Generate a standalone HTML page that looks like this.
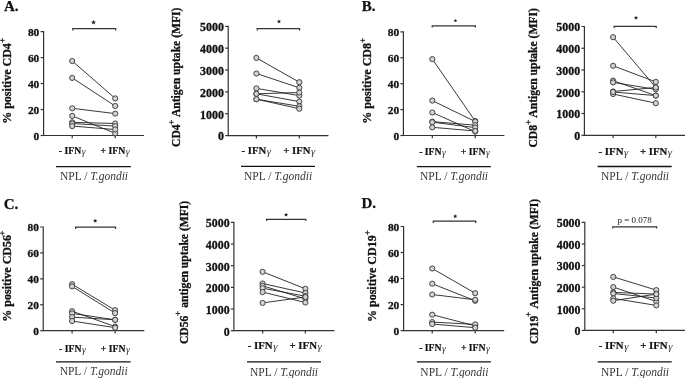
<!DOCTYPE html>
<html><head><meta charset="utf-8"><style>
html,body{margin:0;padding:0;background:#fff;}
svg{display:block;will-change:transform;}
text{font-family:"Liberation Serif",serif;fill:#111;}
.tk{font-size:11.2px;font-weight:bold;text-anchor:end;stroke:#111;stroke-width:0.3px;}
.yl{font-size:11.8px;font-weight:bold;stroke:#111;stroke-width:0.3px;}
.sup{font-size:8.8px;font-weight:bold;fill-opacity:0;stroke-opacity:0;}
.lt{font-size:15px;font-weight:bold;stroke:#111;stroke-width:0.25px;}
.xl{font-size:9.7px;font-weight:bold;text-anchor:middle;stroke:#111;stroke-width:0.2px;}
.g{font-weight:normal;font-style:italic;fill:#333;stroke:none;}
.np{font-size:11.5px;text-anchor:middle;fill:#383838;}
.pt{font-size:9px;text-anchor:middle;fill:#222;}
.dt{fill:#d2d2d2;stroke:#333;stroke-width:0.9;}
</style></head>
<body><svg width="685" height="378" viewBox="0 0 685 378">
<rect width="685" height="378" fill="#fff"/>
<path d="M40.60 31.60H43.60V135.50H144.00" fill="none" stroke="#333" stroke-width="1.2"/>
<path d="M40.60 135.50H43.60" stroke="#333" stroke-width="1.2"/>
<text x="39.30" y="139.80" class="tk" style="font-size:11.4px">0</text>
<path d="M40.60 109.53H43.60" stroke="#333" stroke-width="1.2"/>
<text x="39.30" y="113.83" class="tk" style="font-size:11.4px">20</text>
<path d="M40.60 83.55H43.60" stroke="#333" stroke-width="1.2"/>
<text x="39.30" y="87.85" class="tk" style="font-size:11.4px">40</text>
<path d="M40.60 57.57H43.60" stroke="#333" stroke-width="1.2"/>
<text x="39.30" y="61.87" class="tk" style="font-size:11.4px">60</text>
<text x="39.30" y="35.90" class="tk" style="font-size:11.4px">80</text>
<path d="M72.20 135.50V138.30" stroke="#333" stroke-width="1.2"/>
<path d="M115.20 135.50V138.30" stroke="#333" stroke-width="1.2"/>
<path d="M72.80 30.40V28.70H115.70V30.40" fill="none" stroke="#333" stroke-width="1.2"/>
<polygon points="93.50,19.80 94.14,21.52 95.97,21.60 94.54,22.74 95.03,24.50 93.50,23.49 91.97,24.50 92.46,22.74 91.03,21.60 92.86,21.52" fill="#222"/>
<line x1="72.20" y1="61.00" x2="115.20" y2="98.40" stroke="#222" stroke-width="0.9"/>
<line x1="72.20" y1="77.90" x2="115.20" y2="106.00" stroke="#222" stroke-width="0.9"/>
<line x1="72.20" y1="108.30" x2="115.20" y2="113.60" stroke="#222" stroke-width="0.9"/>
<line x1="72.20" y1="115.90" x2="115.20" y2="133.30" stroke="#222" stroke-width="0.9"/>
<line x1="72.20" y1="122.30" x2="115.20" y2="123.50" stroke="#222" stroke-width="0.9"/>
<line x1="72.20" y1="123.50" x2="115.20" y2="126.10" stroke="#222" stroke-width="0.9"/>
<line x1="72.20" y1="126.10" x2="115.20" y2="129.50" stroke="#222" stroke-width="0.9"/>
<circle cx="72.20" cy="61.00" r="2.6" class="dt"/>
<circle cx="115.20" cy="98.40" r="2.6" class="dt"/>
<circle cx="72.20" cy="77.90" r="2.6" class="dt"/>
<circle cx="115.20" cy="106.00" r="2.6" class="dt"/>
<circle cx="72.20" cy="108.30" r="2.6" class="dt"/>
<circle cx="115.20" cy="113.60" r="2.6" class="dt"/>
<circle cx="72.20" cy="115.90" r="2.6" class="dt"/>
<circle cx="115.20" cy="133.30" r="2.6" class="dt"/>
<circle cx="72.20" cy="122.30" r="2.6" class="dt"/>
<circle cx="115.20" cy="123.50" r="2.6" class="dt"/>
<circle cx="72.20" cy="123.50" r="2.6" class="dt"/>
<circle cx="115.20" cy="126.10" r="2.6" class="dt"/>
<circle cx="72.20" cy="126.10" r="2.6" class="dt"/>
<circle cx="115.20" cy="129.50" r="2.6" class="dt"/>
<text transform="translate(10.70,123.80) rotate(-90)" class="yl" style="font-size:12px">% positive CD4<tspan class="sup" dy="-5.1">+</tspan><tspan dy="5.1"></tspan></text>
<path d="M0.10 40.40H4.70M2.40 38.10V42.70" stroke="#2a2a2a" stroke-width="0.95"/>
<text x="4.00" y="10.60" class="lt">A.</text>
<text x="72.20" y="153.70" class="xl" style="font-size:9.7px">- IFN<tspan class="g" dx="0.5" dy="0.8">γ</tspan></text>
<text x="115.10" y="153.70" class="xl" style="font-size:9.7px">+ IFN<tspan class="g" dx="0.5" dy="0.8">γ</tspan></text>
<path d="M56.00 166.60H130.90" stroke="#111" stroke-width="1.35"/>
<text x="94.00" y="179.80" class="np">NPL / <tspan font-style="italic">T.gondii</tspan></text>
<path d="M225.20 26.30H228.20V135.60H328.50" fill="none" stroke="#333" stroke-width="1.2"/>
<path d="M225.20 135.60H228.20" stroke="#333" stroke-width="1.2"/>
<text x="223.90" y="140.40" class="tk" style="font-size:11.9px">0</text>
<path d="M225.20 113.74H228.20" stroke="#333" stroke-width="1.2"/>
<text x="223.90" y="118.54" class="tk" style="font-size:11.9px">1000</text>
<path d="M225.20 91.88H228.20" stroke="#333" stroke-width="1.2"/>
<text x="223.90" y="96.68" class="tk" style="font-size:11.9px">2000</text>
<path d="M225.20 70.02H228.20" stroke="#333" stroke-width="1.2"/>
<text x="223.90" y="74.82" class="tk" style="font-size:11.9px">3000</text>
<path d="M225.20 48.16H228.20" stroke="#333" stroke-width="1.2"/>
<text x="223.90" y="52.96" class="tk" style="font-size:11.9px">4000</text>
<text x="223.90" y="31.10" class="tk" style="font-size:11.9px">5000</text>
<path d="M256.40 135.60V138.40" stroke="#333" stroke-width="1.2"/>
<path d="M299.30 135.60V138.40" stroke="#333" stroke-width="1.2"/>
<path d="M257.20 30.40V28.70H299.60V30.40" fill="none" stroke="#333" stroke-width="1.2"/>
<polygon points="279.00,19.20 279.57,20.72 281.19,20.79 279.92,21.80 280.35,23.36 279.00,22.47 277.65,23.36 278.08,21.80 276.81,20.79 278.43,20.72" fill="#222"/>
<line x1="256.40" y1="57.90" x2="299.30" y2="82.20" stroke="#222" stroke-width="0.9"/>
<line x1="256.40" y1="73.50" x2="299.30" y2="87.80" stroke="#222" stroke-width="0.9"/>
<line x1="256.40" y1="88.40" x2="299.30" y2="95.60" stroke="#222" stroke-width="0.9"/>
<line x1="256.40" y1="93.80" x2="299.30" y2="92.50" stroke="#222" stroke-width="0.9"/>
<line x1="256.40" y1="93.80" x2="299.30" y2="101.60" stroke="#222" stroke-width="0.9"/>
<line x1="256.40" y1="99.20" x2="299.30" y2="106.30" stroke="#222" stroke-width="0.9"/>
<line x1="256.40" y1="99.20" x2="299.30" y2="108.70" stroke="#222" stroke-width="0.9"/>
<circle cx="256.40" cy="57.90" r="2.6" class="dt"/>
<circle cx="299.30" cy="82.20" r="2.6" class="dt"/>
<circle cx="256.40" cy="73.50" r="2.6" class="dt"/>
<circle cx="299.30" cy="87.80" r="2.6" class="dt"/>
<circle cx="256.40" cy="88.40" r="2.6" class="dt"/>
<circle cx="299.30" cy="95.60" r="2.6" class="dt"/>
<circle cx="256.40" cy="93.80" r="2.6" class="dt"/>
<circle cx="299.30" cy="92.50" r="2.6" class="dt"/>
<circle cx="256.40" cy="93.80" r="2.6" class="dt"/>
<circle cx="299.30" cy="101.60" r="2.6" class="dt"/>
<circle cx="256.40" cy="99.20" r="2.6" class="dt"/>
<circle cx="299.30" cy="106.30" r="2.6" class="dt"/>
<circle cx="256.40" cy="99.20" r="2.6" class="dt"/>
<circle cx="299.30" cy="108.70" r="2.6" class="dt"/>
<text transform="translate(179.50,146.90) rotate(-90)" class="yl" style="font-size:11.6px">CD4<tspan class="sup" dy="-5.1">+</tspan><tspan dy="5.1"> Antigen uptake (MFI)</tspan></text>
<path d="M169.10 122.30H173.70M171.40 120.00V124.60" stroke="#2a2a2a" stroke-width="0.95"/>
<text x="256.30" y="153.70" class="xl" style="font-size:10.7px">- IFN<tspan class="g" dx="0.5" dy="0.8">γ</tspan></text>
<text x="299.20" y="153.70" class="xl" style="font-size:10.7px">+ IFN<tspan class="g" dx="0.5" dy="0.8">γ</tspan></text>
<path d="M241.00 166.40H315.00" stroke="#111" stroke-width="1.35"/>
<text x="278.10" y="179.80" class="np">NPL / <tspan font-style="italic">T.gondii</tspan></text>
<path d="M400.40 31.90H403.40V135.50H504.40" fill="none" stroke="#333" stroke-width="1.2"/>
<path d="M400.40 135.50H403.40" stroke="#333" stroke-width="1.2"/>
<text x="399.10" y="139.80" class="tk" style="font-size:11.4px">0</text>
<path d="M400.40 109.60H403.40" stroke="#333" stroke-width="1.2"/>
<text x="399.10" y="113.90" class="tk" style="font-size:11.4px">20</text>
<path d="M400.40 83.70H403.40" stroke="#333" stroke-width="1.2"/>
<text x="399.10" y="88.00" class="tk" style="font-size:11.4px">40</text>
<path d="M400.40 57.80H403.40" stroke="#333" stroke-width="1.2"/>
<text x="399.10" y="62.10" class="tk" style="font-size:11.4px">60</text>
<text x="399.10" y="36.20" class="tk" style="font-size:11.4px">80</text>
<path d="M432.30 135.50V138.30" stroke="#333" stroke-width="1.2"/>
<path d="M475.20 135.50V138.30" stroke="#333" stroke-width="1.2"/>
<path d="M432.20 27.50V25.80H475.40V27.50" fill="none" stroke="#333" stroke-width="1.2"/>
<polygon points="455.40,18.70 455.89,20.02 457.30,20.08 456.20,20.96 456.58,22.32 455.40,21.54 454.22,22.32 454.60,20.96 453.50,20.08 454.91,20.02" fill="#222"/>
<line x1="432.30" y1="59.10" x2="475.20" y2="121.00" stroke="#222" stroke-width="0.9"/>
<line x1="432.30" y1="100.60" x2="475.20" y2="121.50" stroke="#222" stroke-width="0.9"/>
<line x1="432.30" y1="112.50" x2="475.20" y2="131.60" stroke="#222" stroke-width="0.9"/>
<line x1="432.30" y1="121.60" x2="475.20" y2="125.20" stroke="#222" stroke-width="0.9"/>
<line x1="432.30" y1="122.20" x2="475.20" y2="127.60" stroke="#222" stroke-width="0.9"/>
<line x1="432.30" y1="127.30" x2="475.20" y2="131.00" stroke="#222" stroke-width="0.9"/>
<circle cx="432.30" cy="59.10" r="2.6" class="dt"/>
<circle cx="475.20" cy="121.00" r="2.6" class="dt"/>
<circle cx="432.30" cy="100.60" r="2.6" class="dt"/>
<circle cx="475.20" cy="121.50" r="2.6" class="dt"/>
<circle cx="432.30" cy="112.50" r="2.6" class="dt"/>
<circle cx="475.20" cy="131.60" r="2.6" class="dt"/>
<circle cx="432.30" cy="121.60" r="2.6" class="dt"/>
<circle cx="475.20" cy="125.20" r="2.6" class="dt"/>
<circle cx="432.30" cy="122.20" r="2.6" class="dt"/>
<circle cx="475.20" cy="127.60" r="2.6" class="dt"/>
<circle cx="432.30" cy="127.30" r="2.6" class="dt"/>
<circle cx="475.20" cy="131.00" r="2.6" class="dt"/>
<text transform="translate(371.30,123.70) rotate(-90)" class="yl" style="font-size:12px">% positive CD8<tspan class="sup" dy="-5.1">+</tspan><tspan dy="5.1"></tspan></text>
<path d="M360.40 40.40H365.00M362.70 38.10V42.70" stroke="#2a2a2a" stroke-width="0.95"/>
<text x="361.80" y="10.90" class="lt">B.</text>
<text x="432.50" y="154.90" class="xl" style="font-size:9.7px">- IFN<tspan class="g" dx="0.5" dy="0.8">γ</tspan></text>
<text x="475.30" y="154.90" class="xl" style="font-size:9.7px">+ IFN<tspan class="g" dx="0.5" dy="0.8">γ</tspan></text>
<path d="M416.80 166.60H490.80" stroke="#111" stroke-width="1.35"/>
<text x="454.00" y="180.20" class="np">NPL / <tspan font-style="italic">T.gondii</tspan></text>
<path d="M581.40 26.50H584.40V135.30H686.00" fill="none" stroke="#333" stroke-width="1.2"/>
<path d="M581.40 135.30H584.40" stroke="#333" stroke-width="1.2"/>
<text x="580.10" y="140.10" class="tk" style="font-size:11.9px">0</text>
<path d="M581.40 113.54H584.40" stroke="#333" stroke-width="1.2"/>
<text x="580.10" y="118.34" class="tk" style="font-size:11.9px">1000</text>
<path d="M581.40 91.78H584.40" stroke="#333" stroke-width="1.2"/>
<text x="580.10" y="96.58" class="tk" style="font-size:11.9px">2000</text>
<path d="M581.40 70.02H584.40" stroke="#333" stroke-width="1.2"/>
<text x="580.10" y="74.82" class="tk" style="font-size:11.9px">3000</text>
<path d="M581.40 48.26H584.40" stroke="#333" stroke-width="1.2"/>
<text x="580.10" y="53.06" class="tk" style="font-size:11.9px">4000</text>
<text x="580.10" y="31.30" class="tk" style="font-size:11.9px">5000</text>
<path d="M613.10 135.30V138.10" stroke="#333" stroke-width="1.2"/>
<path d="M655.80 135.30V138.10" stroke="#333" stroke-width="1.2"/>
<path d="M614.10 28.10V26.40H656.20V28.10" fill="none" stroke="#333" stroke-width="1.2"/>
<polygon points="636.00,15.40 636.57,16.92 638.19,16.99 636.92,18.00 637.35,19.56 636.00,18.67 634.65,19.56 635.08,18.00 633.81,16.99 635.43,16.92" fill="#222"/>
<line x1="613.10" y1="37.20" x2="655.80" y2="87.50" stroke="#222" stroke-width="0.9"/>
<line x1="613.10" y1="65.80" x2="655.80" y2="81.90" stroke="#222" stroke-width="0.9"/>
<line x1="613.10" y1="80.70" x2="655.80" y2="95.60" stroke="#222" stroke-width="0.9"/>
<line x1="613.10" y1="82.40" x2="655.80" y2="89.40" stroke="#222" stroke-width="0.9"/>
<line x1="613.10" y1="91.50" x2="655.80" y2="87.50" stroke="#222" stroke-width="0.9"/>
<line x1="613.10" y1="94.00" x2="655.80" y2="103.20" stroke="#222" stroke-width="0.9"/>
<line x1="613.10" y1="92.00" x2="655.80" y2="95.60" stroke="#222" stroke-width="0.9"/>
<circle cx="613.10" cy="37.20" r="2.6" class="dt"/>
<circle cx="655.80" cy="87.50" r="2.6" class="dt"/>
<circle cx="613.10" cy="65.80" r="2.6" class="dt"/>
<circle cx="655.80" cy="81.90" r="2.6" class="dt"/>
<circle cx="613.10" cy="80.70" r="2.6" class="dt"/>
<circle cx="655.80" cy="95.60" r="2.6" class="dt"/>
<circle cx="613.10" cy="82.40" r="2.6" class="dt"/>
<circle cx="655.80" cy="89.40" r="2.6" class="dt"/>
<circle cx="613.10" cy="91.50" r="2.6" class="dt"/>
<circle cx="655.80" cy="87.50" r="2.6" class="dt"/>
<circle cx="613.10" cy="94.00" r="2.6" class="dt"/>
<circle cx="655.80" cy="103.20" r="2.6" class="dt"/>
<circle cx="613.10" cy="92.00" r="2.6" class="dt"/>
<circle cx="655.80" cy="95.60" r="2.6" class="dt"/>
<text transform="translate(537.00,147.50) rotate(-90)" class="yl" style="font-size:11.6px">CD8<tspan class="sup" dy="-5.1">+</tspan><tspan dy="5.1"> Antigen uptake (MFI)</tspan></text>
<path d="M526.00 122.30H530.60M528.30 120.00V124.60" stroke="#2a2a2a" stroke-width="0.95"/>
<text x="613.40" y="154.70" class="xl" style="font-size:10.8px">- IFN<tspan class="g" dx="0.5" dy="0.8">γ</tspan></text>
<text x="656.00" y="154.70" class="xl" style="font-size:10.8px">+ IFN<tspan class="g" dx="0.5" dy="0.8">γ</tspan></text>
<path d="M597.70 166.50H671.70" stroke="#111" stroke-width="1.35"/>
<text x="635.00" y="180.40" class="np">NPL / <tspan font-style="italic">T.gondii</tspan></text>
<path d="M40.20 227.00H43.20V330.70H144.30" fill="none" stroke="#333" stroke-width="1.2"/>
<path d="M40.20 330.70H43.20" stroke="#333" stroke-width="1.2"/>
<text x="38.90" y="335.00" class="tk" style="font-size:11.4px">0</text>
<path d="M40.20 304.77H43.20" stroke="#333" stroke-width="1.2"/>
<text x="38.90" y="309.07" class="tk" style="font-size:11.4px">20</text>
<path d="M40.20 278.85H43.20" stroke="#333" stroke-width="1.2"/>
<text x="38.90" y="283.15" class="tk" style="font-size:11.4px">40</text>
<path d="M40.20 252.93H43.20" stroke="#333" stroke-width="1.2"/>
<text x="38.90" y="257.23" class="tk" style="font-size:11.4px">60</text>
<text x="38.90" y="231.30" class="tk" style="font-size:11.4px">80</text>
<path d="M72.10 330.70V333.50" stroke="#333" stroke-width="1.2"/>
<path d="M115.10 330.70V333.50" stroke="#333" stroke-width="1.2"/>
<path d="M75.60 228.90V227.20H115.60V228.90" fill="none" stroke="#333" stroke-width="1.2"/>
<polygon points="95.20,218.60 95.77,220.12 97.39,220.19 96.12,221.20 96.55,222.76 95.20,221.87 93.85,222.76 94.28,221.20 93.01,220.19 94.63,220.12" fill="#222"/>
<line x1="72.10" y1="284.20" x2="115.10" y2="310.20" stroke="#222" stroke-width="0.9"/>
<line x1="72.10" y1="286.40" x2="115.10" y2="313.10" stroke="#222" stroke-width="0.9"/>
<line x1="72.10" y1="311.20" x2="115.10" y2="326.60" stroke="#222" stroke-width="0.9"/>
<line x1="72.10" y1="313.40" x2="115.10" y2="319.80" stroke="#222" stroke-width="0.9"/>
<line x1="72.10" y1="317.10" x2="115.10" y2="319.80" stroke="#222" stroke-width="0.9"/>
<line x1="72.10" y1="321.00" x2="115.10" y2="327.70" stroke="#222" stroke-width="0.9"/>
<circle cx="72.10" cy="284.20" r="2.6" class="dt"/>
<circle cx="115.10" cy="310.20" r="2.6" class="dt"/>
<circle cx="72.10" cy="286.40" r="2.6" class="dt"/>
<circle cx="115.10" cy="313.10" r="2.6" class="dt"/>
<circle cx="72.10" cy="311.20" r="2.6" class="dt"/>
<circle cx="115.10" cy="326.60" r="2.6" class="dt"/>
<circle cx="72.10" cy="313.40" r="2.6" class="dt"/>
<circle cx="115.10" cy="319.80" r="2.6" class="dt"/>
<circle cx="72.10" cy="317.10" r="2.6" class="dt"/>
<circle cx="115.10" cy="319.80" r="2.6" class="dt"/>
<circle cx="72.10" cy="321.00" r="2.6" class="dt"/>
<circle cx="115.10" cy="327.70" r="2.6" class="dt"/>
<text transform="translate(10.60,321.70) rotate(-90)" class="yl" style="font-size:12px">% positive CD56<tspan class="sup" dy="-5.1">+</tspan><tspan dy="5.1"></tspan></text>
<path d="M0.00 233.20H4.60M2.30 230.90V235.50" stroke="#2a2a2a" stroke-width="0.95"/>
<text x="3.70" y="209.00" class="lt">C.</text>
<text x="72.40" y="351.70" class="xl" style="font-size:9.7px">- IFN<tspan class="g" dx="0.5" dy="0.8">γ</tspan></text>
<text x="115.30" y="351.70" class="xl" style="font-size:9.7px">+ IFN<tspan class="g" dx="0.5" dy="0.8">γ</tspan></text>
<path d="M56.00 361.80H130.60" stroke="#111" stroke-width="1.35"/>
<text x="93.70" y="375.40" class="np">NPL / <tspan font-style="italic">T.gondii</tspan></text>
<path d="M230.90 222.40H233.90V330.70H334.50" fill="none" stroke="#333" stroke-width="1.2"/>
<path d="M230.90 330.70H233.90" stroke="#333" stroke-width="1.2"/>
<text x="229.60" y="335.50" class="tk" style="font-size:11.9px">0</text>
<path d="M230.90 309.04H233.90" stroke="#333" stroke-width="1.2"/>
<text x="229.60" y="313.84" class="tk" style="font-size:11.9px">1000</text>
<path d="M230.90 287.38H233.90" stroke="#333" stroke-width="1.2"/>
<text x="229.60" y="292.18" class="tk" style="font-size:11.9px">2000</text>
<path d="M230.90 265.72H233.90" stroke="#333" stroke-width="1.2"/>
<text x="229.60" y="270.52" class="tk" style="font-size:11.9px">3000</text>
<path d="M230.90 244.06H233.90" stroke="#333" stroke-width="1.2"/>
<text x="229.60" y="248.86" class="tk" style="font-size:11.9px">4000</text>
<text x="229.60" y="227.20" class="tk" style="font-size:11.9px">5000</text>
<path d="M262.60 330.70V333.50" stroke="#333" stroke-width="1.2"/>
<path d="M305.40 330.70V333.50" stroke="#333" stroke-width="1.2"/>
<path d="M266.60 221.00V219.30H305.80V221.00" fill="none" stroke="#333" stroke-width="1.2"/>
<polygon points="286.10,212.40 286.67,213.92 288.29,213.99 287.02,215.00 287.45,216.56 286.10,215.67 284.75,216.56 285.18,215.00 283.91,213.99 285.53,213.92" fill="#222"/>
<line x1="262.60" y1="271.80" x2="305.40" y2="288.80" stroke="#222" stroke-width="0.9"/>
<line x1="262.60" y1="283.50" x2="305.40" y2="293.00" stroke="#222" stroke-width="0.9"/>
<line x1="262.60" y1="285.80" x2="305.40" y2="298.90" stroke="#222" stroke-width="0.9"/>
<line x1="262.60" y1="288.20" x2="305.40" y2="296.20" stroke="#222" stroke-width="0.9"/>
<line x1="262.60" y1="292.10" x2="305.40" y2="302.50" stroke="#222" stroke-width="0.9"/>
<line x1="262.60" y1="302.90" x2="305.40" y2="297.00" stroke="#222" stroke-width="0.9"/>
<circle cx="262.60" cy="271.80" r="2.6" class="dt"/>
<circle cx="305.40" cy="288.80" r="2.6" class="dt"/>
<circle cx="262.60" cy="283.50" r="2.6" class="dt"/>
<circle cx="305.40" cy="293.00" r="2.6" class="dt"/>
<circle cx="262.60" cy="285.80" r="2.6" class="dt"/>
<circle cx="305.40" cy="298.90" r="2.6" class="dt"/>
<circle cx="262.60" cy="288.20" r="2.6" class="dt"/>
<circle cx="305.40" cy="296.20" r="2.6" class="dt"/>
<circle cx="262.60" cy="292.10" r="2.6" class="dt"/>
<circle cx="305.40" cy="302.50" r="2.6" class="dt"/>
<circle cx="262.60" cy="302.90" r="2.6" class="dt"/>
<circle cx="305.40" cy="297.00" r="2.6" class="dt"/>
<text transform="translate(187.60,344.00) rotate(-90)" class="yl" style="font-size:11.6px">CD56<tspan class="sup" dy="-5.1">+</tspan><tspan dy="5.1"> antigen uptake (MFI)</tspan></text>
<path d="M175.50 313.50H180.10M177.80 311.20V315.80" stroke="#2a2a2a" stroke-width="0.95"/>
<text x="262.60" y="348.90" class="xl" style="font-size:10.8px">- IFN<tspan class="g" dx="0.5" dy="0.8">γ</tspan></text>
<text x="305.60" y="348.90" class="xl" style="font-size:10.8px">+ IFN<tspan class="g" dx="0.5" dy="0.8">γ</tspan></text>
<path d="M247.00 361.80H321.00" stroke="#111" stroke-width="1.35"/>
<text x="284.00" y="375.70" class="np">NPL / <tspan font-style="italic">T.gondii</tspan></text>
<path d="M400.60 226.50H403.60V330.60H504.20" fill="none" stroke="#333" stroke-width="1.2"/>
<path d="M400.60 330.60H403.60" stroke="#333" stroke-width="1.2"/>
<text x="399.30" y="334.90" class="tk" style="font-size:11.4px">0</text>
<path d="M400.60 304.58H403.60" stroke="#333" stroke-width="1.2"/>
<text x="399.30" y="308.88" class="tk" style="font-size:11.4px">20</text>
<path d="M400.60 278.55H403.60" stroke="#333" stroke-width="1.2"/>
<text x="399.30" y="282.85" class="tk" style="font-size:11.4px">40</text>
<path d="M400.60 252.53H403.60" stroke="#333" stroke-width="1.2"/>
<text x="399.30" y="256.82" class="tk" style="font-size:11.4px">60</text>
<text x="399.30" y="230.80" class="tk" style="font-size:11.4px">80</text>
<path d="M432.20 330.60V333.40" stroke="#333" stroke-width="1.2"/>
<path d="M475.20 330.60V333.40" stroke="#333" stroke-width="1.2"/>
<path d="M433.30 222.90V221.20H475.70V222.90" fill="none" stroke="#333" stroke-width="1.2"/>
<polygon points="455.20,214.10 455.77,215.62 457.39,215.69 456.12,216.70 456.55,218.26 455.20,217.37 453.85,218.26 454.28,216.70 453.01,215.69 454.63,215.62" fill="#222"/>
<line x1="432.20" y1="268.50" x2="475.20" y2="293.20" stroke="#222" stroke-width="0.9"/>
<line x1="432.20" y1="283.70" x2="475.20" y2="300.80" stroke="#222" stroke-width="0.9"/>
<line x1="432.20" y1="294.50" x2="475.20" y2="299.80" stroke="#222" stroke-width="0.9"/>
<line x1="432.20" y1="314.70" x2="475.20" y2="325.80" stroke="#222" stroke-width="0.9"/>
<line x1="432.20" y1="322.10" x2="475.20" y2="324.40" stroke="#222" stroke-width="0.9"/>
<line x1="432.20" y1="324.00" x2="475.20" y2="327.70" stroke="#222" stroke-width="0.9"/>
<circle cx="432.20" cy="268.50" r="2.6" class="dt"/>
<circle cx="475.20" cy="293.20" r="2.6" class="dt"/>
<circle cx="432.20" cy="283.70" r="2.6" class="dt"/>
<circle cx="475.20" cy="300.80" r="2.6" class="dt"/>
<circle cx="432.20" cy="294.50" r="2.6" class="dt"/>
<circle cx="475.20" cy="299.80" r="2.6" class="dt"/>
<circle cx="432.20" cy="314.70" r="2.6" class="dt"/>
<circle cx="475.20" cy="325.80" r="2.6" class="dt"/>
<circle cx="432.20" cy="322.10" r="2.6" class="dt"/>
<circle cx="475.20" cy="324.40" r="2.6" class="dt"/>
<circle cx="432.20" cy="324.00" r="2.6" class="dt"/>
<circle cx="475.20" cy="327.70" r="2.6" class="dt"/>
<text transform="translate(375.50,322.00) rotate(-90)" class="yl" style="font-size:12px">% positive CD19<tspan class="sup" dy="-5.1">+</tspan><tspan dy="5.1"></tspan></text>
<path d="M365.10 232.70H369.70M367.40 230.40V235.00" stroke="#2a2a2a" stroke-width="0.95"/>
<text x="361.40" y="207.80" class="lt">D.</text>
<text x="432.50" y="350.70" class="xl" style="font-size:9.7px">- IFN<tspan class="g" dx="0.5" dy="0.8">γ</tspan></text>
<text x="475.40" y="350.70" class="xl" style="font-size:9.7px">+ IFN<tspan class="g" dx="0.5" dy="0.8">γ</tspan></text>
<path d="M416.90 361.80H490.90" stroke="#111" stroke-width="1.35"/>
<text x="454.40" y="375.70" class="np">NPL / <tspan font-style="italic">T.gondii</tspan></text>
<path d="M581.80 222.30H584.80V330.40H686.00" fill="none" stroke="#333" stroke-width="1.2"/>
<path d="M581.80 330.40H584.80" stroke="#333" stroke-width="1.2"/>
<text x="580.50" y="335.20" class="tk" style="font-size:11.9px">0</text>
<path d="M581.80 308.78H584.80" stroke="#333" stroke-width="1.2"/>
<text x="580.50" y="313.58" class="tk" style="font-size:11.9px">1000</text>
<path d="M581.80 287.16H584.80" stroke="#333" stroke-width="1.2"/>
<text x="580.50" y="291.96" class="tk" style="font-size:11.9px">2000</text>
<path d="M581.80 265.54H584.80" stroke="#333" stroke-width="1.2"/>
<text x="580.50" y="270.34" class="tk" style="font-size:11.9px">3000</text>
<path d="M581.80 243.92H584.80" stroke="#333" stroke-width="1.2"/>
<text x="580.50" y="248.72" class="tk" style="font-size:11.9px">4000</text>
<text x="580.50" y="227.10" class="tk" style="font-size:11.9px">5000</text>
<path d="M613.30 330.40V333.20" stroke="#333" stroke-width="1.2"/>
<path d="M656.30 330.40V333.20" stroke="#333" stroke-width="1.2"/>
<path d="M612.80 228.50V226.80H656.70V228.50" fill="none" stroke="#333" stroke-width="1.2"/>
<text x="634.70" y="222.60" class="pt">p = 0.078</text>
<line x1="613.30" y1="276.90" x2="656.30" y2="290.10" stroke="#222" stroke-width="0.9"/>
<line x1="613.30" y1="287.10" x2="656.30" y2="301.50" stroke="#222" stroke-width="0.9"/>
<line x1="613.30" y1="292.40" x2="656.30" y2="294.10" stroke="#222" stroke-width="0.9"/>
<line x1="613.30" y1="293.50" x2="656.30" y2="298.00" stroke="#222" stroke-width="0.9"/>
<line x1="613.30" y1="298.40" x2="656.30" y2="305.40" stroke="#222" stroke-width="0.9"/>
<line x1="613.30" y1="300.70" x2="656.30" y2="294.10" stroke="#222" stroke-width="0.9"/>
<circle cx="613.30" cy="276.90" r="2.6" class="dt"/>
<circle cx="656.30" cy="290.10" r="2.6" class="dt"/>
<circle cx="613.30" cy="287.10" r="2.6" class="dt"/>
<circle cx="656.30" cy="301.50" r="2.6" class="dt"/>
<circle cx="613.30" cy="292.40" r="2.6" class="dt"/>
<circle cx="656.30" cy="294.10" r="2.6" class="dt"/>
<circle cx="613.30" cy="293.50" r="2.6" class="dt"/>
<circle cx="656.30" cy="298.00" r="2.6" class="dt"/>
<circle cx="613.30" cy="298.40" r="2.6" class="dt"/>
<circle cx="656.30" cy="305.40" r="2.6" class="dt"/>
<circle cx="613.30" cy="300.70" r="2.6" class="dt"/>
<circle cx="656.30" cy="294.10" r="2.6" class="dt"/>
<text transform="translate(537.60,344.00) rotate(-90)" class="yl" style="font-size:11.6px">CD19<tspan class="sup" dy="-5.1">+</tspan><tspan dy="5.1"> Antigen uptake (MFI)</tspan></text>
<path d="M526.00 314.40H530.60M528.30 312.10V316.70" stroke="#2a2a2a" stroke-width="0.95"/>
<text x="613.60" y="348.80" class="xl" style="font-size:10.8px">- IFN<tspan class="g" dx="0.5" dy="0.8">γ</tspan></text>
<text x="656.30" y="348.80" class="xl" style="font-size:10.8px">+ IFN<tspan class="g" dx="0.5" dy="0.8">γ</tspan></text>
<path d="M597.70 361.80H671.70" stroke="#111" stroke-width="1.35"/>
<text x="635.00" y="375.70" class="np">NPL / <tspan font-style="italic">T.gondii</tspan></text>
</svg></body></html>
